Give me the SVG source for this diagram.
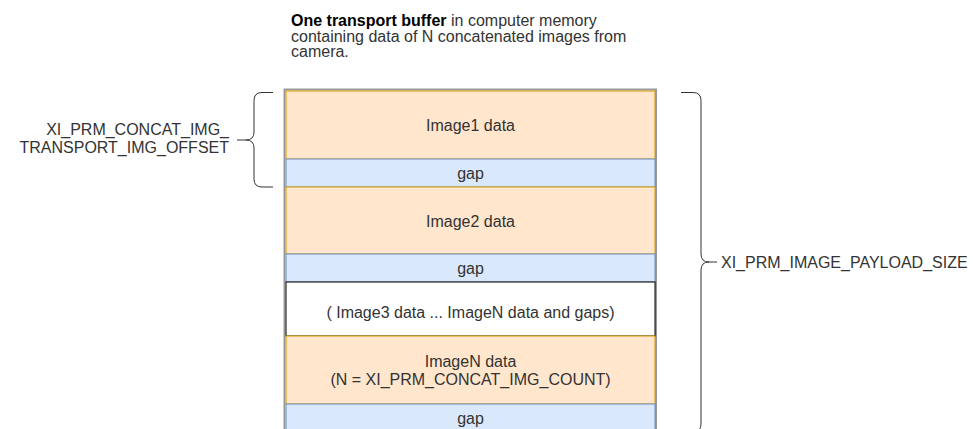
<svg xmlns="http://www.w3.org/2000/svg" width="974" height="429" viewBox="0 0 974 429">
<style>
text{font-family:"Liberation Sans",Arial,sans-serif;font-size:16px;fill:#333;}
.c{text-anchor:middle;}
.img{fill:#ffe6cc;stroke:#d79b00;stroke-width:1;}
.gap{fill:#dae8fc;stroke:#6c8ebf;stroke-width:1;}
.brace{fill:none;stroke:#333;stroke-width:1;}
</style>
<rect width="974" height="429" fill="#fff"/>
<g id="title">
<text x="291" y="26"><tspan font-weight="bold" fill="#000">One transport buffer</tspan> in computer memory<tspan x="291" dy="15.5">containing data of N concatenated images from</tspan><tspan x="291" dy="15.5">camera.</tspan></text>
</g>
<g id="buffer">
<rect x="284.5" y="89.5" width="371.5" height="345" fill="none" stroke="#999" stroke-width="2"/>
</g>
<g id="image1"><rect class="img" x="286" y="91" width="369" height="68"/><text class="c" x="470.5" y="131">Image1 data</text></g>
<g id="gap1"><rect class="gap" x="286" y="159" width="369" height="28"/><text class="c" x="470.5" y="179">gap</text></g>
<g id="image2"><rect class="img" x="286" y="187" width="369" height="67"/><text class="c" x="470.5" y="227">Image2 data</text></g>
<g id="gap2"><rect class="gap" x="286" y="254" width="369" height="28"/><text class="c" x="470.5" y="274">gap</text></g>
<g id="middle"><rect x="286" y="282" width="369" height="54" fill="#fff" stroke="#000" stroke-width="1"/><text class="c" x="470.5" y="318">( Image3 data ... ImageN data and gaps)</text></g>
<g id="imageN"><rect class="img" x="286" y="336" width="369" height="68"/><text class="c" x="470.5" y="367">ImageN data<tspan x="470.5" dy="18">(N = XI_PRM_CONCAT_IMG_COUNT)</tspan></text></g>
<g id="gapN"><rect class="gap" x="286" y="404" width="369" height="30"/><text class="c" x="470.5" y="424">gap</text></g>
<g id="connectors">
<path class="brace" d="M273,92.5 L262,92.5 Q254,92.5 254,100.5 L254,132 Q254,140 246,140 L237,140 M246,140 Q254,140 254,148 L254,179 Q254,187 262,187 L273,187"/>
<path class="brace" d="M681,92.5 L693,92.5 Q701,92.5 701,100.5 L701,254 Q701,262 709,262 L717,262 M709,262 Q701,262 701,270 L701,424 Q701,432 693,432 L681,432"/>
</g>
<g id="offset-label">
<text x="229" y="135" text-anchor="end">XI_PRM_CONCAT_IMG_<tspan x="229" dy="18">TRANSPORT_IMG_OFFSET</tspan></text>
</g>
<g id="payload-label">
<text x="721" y="268">XI_PRM_IMAGE_PAYLOAD_SIZE</text>
</g>
</svg>
